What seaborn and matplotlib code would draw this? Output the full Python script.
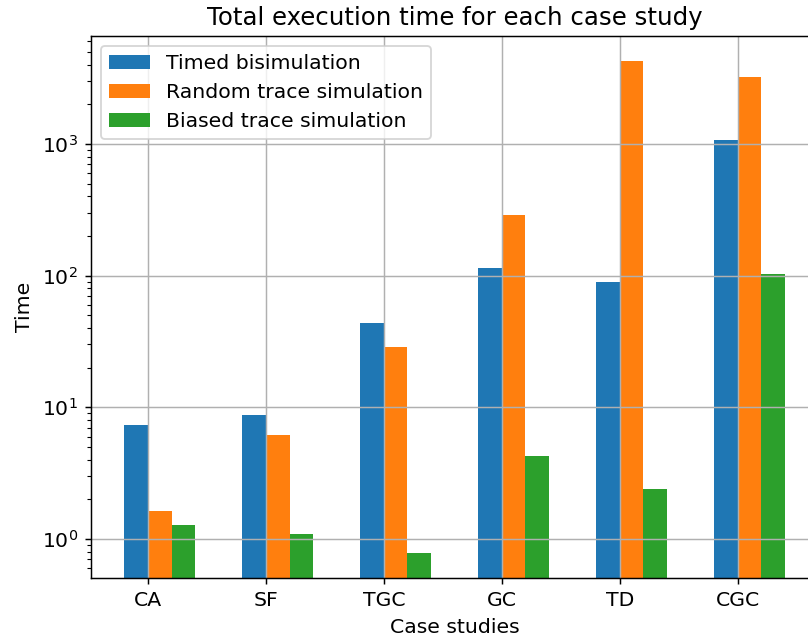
import numpy as np
import pandas as pd
import matplotlib
matplotlib.use("Agg")
import matplotlib.pyplot as plt
import seaborn as sns

cases = ["CA", "SF", "TGC", "GC", "TD", "CGC"]
methods = ["Timed bisimulation", "Random trace simulation", "Biased trace simulation"]
timed_bisim = [7.34, 8.74, 43.6, 114, 89.4, 1070]
random_trace = [1.63, 6.16, 28.7, 288, 4260, 3220]
biased_trace = [1.28, 1.09, 0.78, 4.27, 2.40, 103]
colors = ["#1f77b4", "#ff7f0e", "#2ca02c"]

rows = []
for m, vals in zip(methods, [timed_bisim, random_trace, biased_trace]):
    for c, v in zip(cases, vals):
        rows.append({"case": c, "time": v, "method": m})
df = pd.DataFrame(rows)

plt.rcParams["font.size"] = 11

fig = plt.figure(figsize=(808 / 133, 640 / 133), dpi=133)
ax = fig.add_axes([91 / 808, 61.7 / 640, (818 - 91) / 808, (578.3 - 35.7) / 640])

sns.barplot(data=df, x="case", y="time", hue="method", hue_order=methods,
            order=cases, palette=colors, width=0.6, gap=0, saturation=1,
            errorbar=None, ax=ax)
ax.set_yscale("log")
ax.set_ylim(0.503, 6630)
ax.set_xlim(-0.583, 5.58)
ax.set_xticks(np.arange(len(cases)) - 0.1)
ax.set_xticklabels(cases)
ax.grid(True)
ax.set_axisbelow("line")
ax.set_xlabel("Case studies")
ax.set_ylabel("Time")
ax.set_title("Total execution time for each case study")
sns.move_legend(ax, "upper left", title=None)

fig.savefig("out.png", dpi=133)
